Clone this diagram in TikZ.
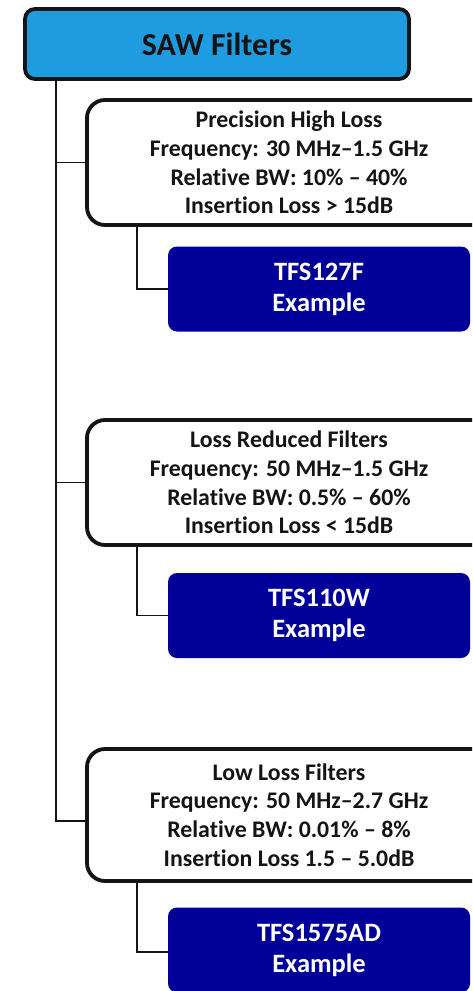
\documentclass[tikz,border=0pt]{standalone}
\usepackage{fontspec}
\setmainfont[Ligatures=NoCommon,Contextuals=NoAlternate]{Carlito}
\definecolor{sawblue}{RGB}{31,156,224}
\definecolor{navy}{RGB}{0,0,153}
\definecolor{ink}{RGB}{20,20,20}
\newcommand{\insr}{Insert\kern0pt ion}
\begin{document}
\begin{tikzpicture}[x=1pt,y=-1pt,
  titlebox/.style={draw=ink,fill=sawblue,line width=3.8pt,rounded corners=10pt,
    minimum width=384pt,minimum height=70pt,inner sep=0pt,
    font=\fontsize{32}{36}\selectfont\bfseries,text=ink},
  catbox/.style={draw=ink,fill=white,line width=3.8pt,rounded corners=18pt,
    minimum width=404pt,inner sep=0pt,align=center,
    font=\fontsize{23.8}{28.7}\selectfont\bfseries,text=ink},
  exbox/.style={fill=navy,rounded corners=9pt,minimum width=302pt,minimum height=85pt,
    inner sep=0pt,align=center,text=white,
    font=\fontsize{26.5}{31}\selectfont\bfseries},
  conn/.style={draw=ink,line width=1.3pt}]
\useasboundingbox (0,0) rectangle (472,991);
\clip (0,0) rectangle (472,991);
\coordinate (trunk) at (56,0);
\coordinate (sub) at (137,0);
\node[titlebox] (top) at (217,44) {SAW Filters};
\node[catbox,minimum height=125pt] (b1) at (289,162.5) {Precision High Loss\\Frequency: 30 MHz–1.5 GHz\\Relative BW: 10\% – 40\%\\\insr{} Loss > 15dB};
\node[catbox,minimum height=125pt] (b2) at (289,482.5) {Loss Reduced Filters\\Frequency: 50 MHz–1.5 GHz\\Relative BW: 0.5\% – 60\%\\\insr{} Loss < 15dB};
\node[catbox,minimum height=132pt] (b3) at (289,815) {Low Loss Filters\\Frequency: 50 MHz–2.7 GHz\\Relative BW: 0.01\% – 8\%\\\insr{} Loss 1.5 – 5.0dB};
\node[exbox] (e1) at (319,289) {TFS127F\\Example};
\node[exbox] (e2) at (319,615.5) {TFS110W\\Example};
\node[exbox] (e3) at (319,950) {TFS1575AD\\Example};
\path[conn] (top.south -| trunk) |- (b1.west);
\path[conn] (top.south -| trunk) |- (b2.west);
\path[conn] (top.south -| trunk) |- ([yshift=-6pt]b3.west);
\path[conn] (b1.south -| sub) |- (e1.west);
\path[conn] (b2.south -| sub) |- (e2.west);
\path[conn] (b3.south -| sub) |- ([yshift=-2pt]e3.west);
\end{tikzpicture}
\end{document}
